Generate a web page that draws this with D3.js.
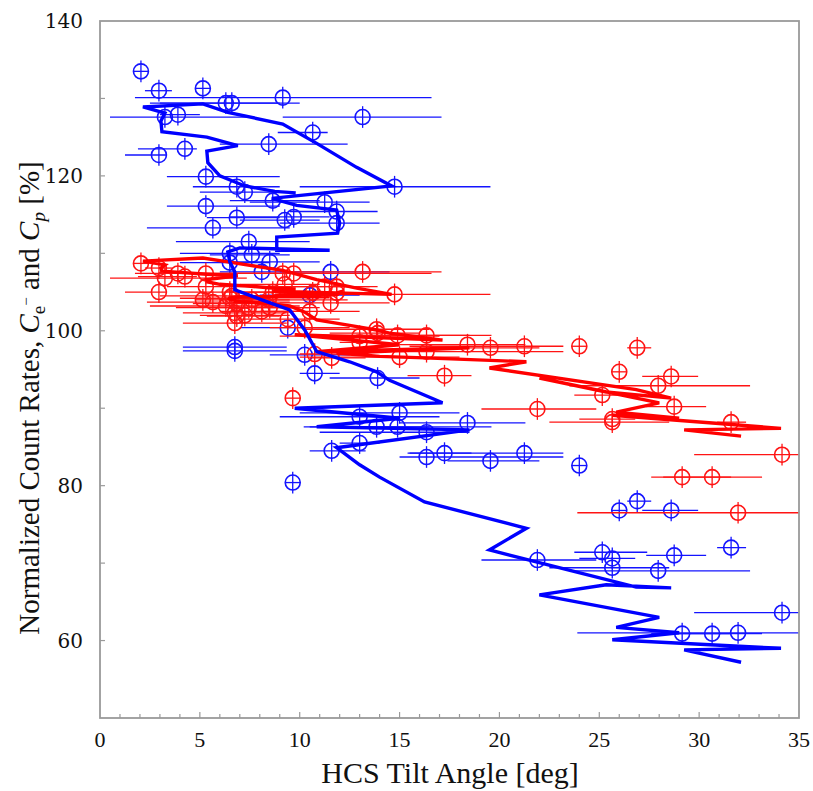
<!DOCTYPE html>
<html>
<head>
<meta charset="utf-8">
<title>Count rates vs HCS tilt angle</title>
<script src="https://d3js.org/d3.v7.min.js"></script>
<style>
  body { margin: 0; background: #fff; }
  text { font-family: "Liberation Serif", "Times New Roman", serif; }
</style>
</head>
<body>
<script>
// one entry per tilt bin: centre, bar ends, electron rate, proton rate
const tilt     = [34.15, 31.95, 30.65, 29.15, 31.6, 28.75, 28.6, 27.95, 26.9, 26.0, 25.65, 25.65, 25.15, 24.0, 21.9, 21.25, 19.55, 18.4, 17.25, 16.35, 16.35, 15.0, 14.9, 14.75, 13.9, 13.85, 13.15, 13.0, 13.0, 11.6, 11.55, 11.85, 11.85, 11.25, 10.75, 10.65, 10.5, 10.25, 9.65, 9.4, 9.15, 9.7, 9.25, 8.65, 8.45, 8.5, 8.1, 7.6, 7.45, 7.25, 6.85, 6.85, 6.75, 6.75, 6.6, 6.3, 6.5, 6.5, 5.65, 5.3, 5.3, 5.15, 4.25, 3.9, 3.25, 2.95, 2.95, 2.05];
const tiltLo   = [29.75, 23.9, 28.2, 27.6, 30.9, 27.35, 27.15, 23.5, 26.4, 26.0, 22.5, 24.0, 23.75, 24.0, 19.1, 15.5, 17.4, 15.0, 15.4, 11.0, 15.0, 10.0, 10.5, 10.0, 11.5, 10.2, 9.15, 9.0, 12.0, 10.5, 9.0, 9.5, 9.0, 7.5, 10.0, 8.9, 8.0, 8.5, 9.65, 7.0, 1.75, 6.5, 7.0, 6.5, 6.0, 6.0, 6.0, 5.5, 3.8, 5.0, 4.65, 5.35, 4.15, 4.15, 3.0, 2.5, 4.0, 4.0, 2.35, 3.35, 3.35, 5.15, 1.9, 3.0, 0.5, 2.25, 1.25, 2.05];
const tiltHi   = [36, 36, 33.15, 31.6, 32.35, 30.35, 29.95, 32.55, 27.6, 26.0, 28.5, 26.8, 27.4, 24.0, 24.85, 23.2, 22.0, 21.3, 18.6, 18.5, 23.2, 18.0, 19.6, 19.55, 16.0, 16.5, 17.1, 17.0, 14.0, 13.3, 14.5, 13.9, 14.0, 13.5, 12.0, 11.4, 13.0, 12.5, 9.65, 12.0, 16.6, 11.5, 11.0, 11.0, 12.4, 11.0, 10.0, 9.5, 10.5, 9.5, 9.0, 9.0, 9.35, 9.35, 9.0, 10.0, 9.0, 8.5, 9.5, 9.0, 9.0, 5.15, 4.85, 5.0, 7.35, 3.6, 3.35, 2.05];
const electron = [63.6, 61.0, 60.9, 60.9, 72.0, 71.0, 76.8, 69.0, 78.0, 76.8, 69.4, 70.6, 71.4, 82.6, 70.4, 84.2, 83.2, 88.1, 84.2, 86.9, 83.7, 89.4, 87.6, 118.6, 93.9, 87.6, 127.6, 88.9, 85.5, 84.5, 107.6, 115.4, 113.9, 116.6, 94.5, 125.6, 104.6, 96.9, 80.4, 100.4, 130.1, 114.7, 114.3, 116.8, 124.1, 108.9, 107.6, 109.8, 111.5, 117.9, 118.6, 114.6, 97.9, 97.4, 129.4, 129.4, 110.0, 108.8, 113.3, 119.9, 116.1, 131.3, 123.5, 127.9, 127.6, 131.0, 122.7, 133.5];
const proton   = [84.0, 76.5, 81.1, 81.1, 88.2, 90.2, 94.1, 92.9, 97.8, 94.7, 88.2, 88.6, 91.7, 98.0, 89.9, 98.0, 97.8, 98.2, 94.2, 99.4, 97.3, 96.6, 99.4, 104.7, 99.7, 100.2, 107.6, 99.3, 98.5, 96.5, 103.6, 105.7, 104.9, 105.7, 97.0, 104.9, 102.5, 100.4, 91.3, 101.5, 107.4, 107.4, 106.0, 105.0, 104.0, 103.0, 102.5, 104.0, 103.0, 102.0, 103.5, 101.9, 101.0, 102.3, 104.5, 103.2, 105.0, 104.2, 103.7, 105.7, 107.4, 104.0, 107.0, 107.4, 106.8, 108.1, 105.0, 108.7];
const rateErr = 1.4;

// model curves, in time order
const curveTilt     = [9.8, 8.75, 7.25, 6.0, 5.4, 5.35, 6.9, 5.35, 3.1, 3.05, 3.25, 2.15, 5.15, 6.4, 9.15, 10.85, 12.85, 14.6, 8.6, 9.85, 11.85, 12.0, 11.9, 8.85, 8.85, 11.5, 7.0, 6.4, 6.5, 6.75, 6.75, 8.1, 9.5, 10.25, 10.85, 12.5, 13.85, 14.5, 17.15, 9.75, 15.0, 10.85, 18.5, 11.85, 13.0, 14.0, 16.25, 21.35, 19.5, 26.85, 28.6, 25.35, 22.0, 28.0, 25.85, 29.0, 25.65, 34.1, 29.25, 32.1];
const curveElectron = [117.8, 118.0, 118.7, 120.0, 121.7, 123.2, 123.9, 125.0, 125.7, 127.1, 128.1, 128.9, 129.3, 128.2, 126.7, 124.2, 121.1, 118.7, 117.1, 116.2, 115.6, 113.9, 112.6, 112.1, 110.4, 110.4, 110.7, 110.2, 108.9, 107.6, 105.3, 104.0, 102.7, 100.1, 97.3, 96.0, 94.7, 93.6, 90.7, 90.0, 88.7, 87.6, 87.2, 84.9, 82.7, 81.1, 77.9, 74.5, 71.7, 66.9, 66.8, 67.2, 65.9, 63.0, 61.7, 61.0, 60.1, 59.0, 58.8, 57.2];
const curveProton   = [105.4, 105.5, 105.8, 106.0, 106.3, 106.6, 107.1, 107.3, 107.7, 108.1, 108.5, 109.0, 109.4, 108.9, 107.8, 106.6, 105.5, 104.7, 105.1, 105.0, 104.9, 105.0, 104.7, 104.6, 104.5, 104.4, 104.4, 104.2, 104.1, 104.0, 103.8, 103.6, 103.2, 102.4, 101.4, 100.7, 100.1, 99.7, 98.8, 99.5, 98.2, 97.3, 97.8, 97.1, 96.9, 96.7, 96.5, 96.0, 95.2, 92.4, 91.3, 92.1, 93.9, 90.7, 89.5, 88.7, 89.1, 87.4, 87.2, 86.4];

const xTicks = d3.range(0, 36, 5);
const yTicks = [60, 80, 100, 120, 140];

const width = 813, height = 791;
const margin = { top: 21, right: 14, bottom: 73, left: 100 };

const svg = d3.select("body").append("svg")
    .attr("width", width)
    .attr("height", height);

svg.append("rect").attr("width", width).attr("height", height).attr("fill", "#fff");

const x = d3.scaleLinear().domain([0, 35]).range([margin.left, width - margin.right]);
const y = d3.scaleLinear().domain([50, 140]).range([height - margin.bottom, margin.top]);

svg.append("clipPath").attr("id", "plot")
    .append("rect")
    .attr("x", x(0)).attr("y", y(140))
    .attr("width", x(35) - x(0)).attr("height", y(50) - y(140));

const bins = tilt.map((t, i) => ({ t, lo: tiltLo[i], hi: tiltHi[i], e: electron[i], p: proton[i] }));

const plot = svg.append("g").attr("clip-path", "url(#plot)");

function drawPoints(key, color) {
    const g = plot.append("g").attr("stroke", color).attr("fill", "none");
    const r = 7.5;
    // horizontal bars
    g.selectAll(".hb").data(bins).join("line")
        .attr("x1", d => Math.min(x(d.lo), x(d.t) - r))
        .attr("x2", d => Math.max(x(d.hi), x(d.t) + r))
        .attr("y1", d => y(d[key])).attr("y2", d => y(d[key]))
        .attr("stroke-width", 1.3);
    // vertical bars
    g.selectAll(".vb").data(bins).join("line")
        .attr("x1", d => x(d.t)).attr("x2", d => x(d.t))
        .attr("y1", d => y(d[key] - rateErr)).attr("y2", d => y(d[key] + rateErr))
        .attr("stroke-width", 1.3);
    g.selectAll("circle").data(bins).join("circle")
        .attr("cx", d => x(d.t)).attr("cy", d => y(d[key]))
        .attr("r", r)
        .attr("stroke-width", 1.6);
}

drawPoints("e", "#1414ff");
drawPoints("p", "#ff1414");

const curve = curveTilt.map((t, i) => ({ t, e: curveElectron[i], p: curveProton[i] }));

plot.append("path")
    .datum(curve)
    .attr("fill", "none")
    .attr("stroke", "#ff0000")
    .attr("stroke-width", 3.4)
    .attr("d", d3.line().x(d => x(d.t)).y(d => y(d.p)));

plot.append("path")
    .datum(curve)
    .attr("fill", "none")
    .attr("stroke", "#0000ff")
    .attr("stroke-width", 3.4)
    .attr("d", d3.line().x(d => x(d.t)).y(d => y(d.e)));

// frame and inward ticks
const axisColor = "#9a9a9a";
svg.append("rect")
    .attr("x", x(0)).attr("y", y(140))
    .attr("width", x(35) - x(0)).attr("height", y(50) - y(140))
    .attr("fill", "none").attr("stroke", axisColor).attr("stroke-width", 1.8);

svg.append("g").selectAll("line").data(d3.range(1, 35)).join("line")
    .attr("x1", d => x(d)).attr("x2", d => x(d))
    .attr("y1", y(50)).attr("y2", d => y(50) - (d % 5 === 0 ? 6 : 4))
    .attr("stroke", axisColor).attr("stroke-width", 1.2);

svg.append("g").selectAll("line").data(d3.range(60, 140, 10)).join("line")
    .attr("x1", x(0)).attr("x2", x(0) + 5)
    .attr("y1", d => y(d)).attr("y2", d => y(d))
    .attr("stroke", axisColor).attr("stroke-width", 1.2);

svg.append("g").selectAll("text").data(xTicks).join("text")
    .attr("x", d => x(d)).attr("y", y(50) + 29)
    .attr("text-anchor", "middle")
    .attr("font-size", 22)
    .attr("fill", "#111")
    .text(d => d);

svg.append("g").selectAll("text").data(yTicks).join("text")
    .attr("x", x(0) - 17).attr("y", d => y(d) + 7)
    .attr("text-anchor", "end")
    .attr("font-size", 20)
    .attr("fill", "#111")
    .style("font-family", "'DejaVu Serif', serif")
    .text(d => d);

svg.append("text")
    .attr("x", 450).attr("y", 783)
    .attr("text-anchor", "middle")
    .attr("font-size", 30)
    .attr("fill", "#111")
    .text("HCS Tilt Angle [deg]");

const yt = svg.append("text")
    .attr("transform", "translate(39,398) rotate(-90)")
    .attr("text-anchor", "middle")
    .attr("font-size", 29)
    .attr("fill", "#111");
yt.append("tspan").text("Normalized Count Rates, ");
yt.append("tspan").attr("font-style", "italic").text("C");
yt.append("tspan").attr("font-size", 19).attr("dy", 6).text("e");
yt.append("tspan").attr("font-size", 15).attr("dy", -14).text("−");
yt.append("tspan").attr("dy", 8).text(" and ");
yt.append("tspan").attr("font-style", "italic").text("C");
yt.append("tspan").attr("font-style", "italic").attr("font-size", 19).attr("dy", 6).text("p");
yt.append("tspan").attr("dy", -6).text(" [%]");
</script>
</body>
</html>
